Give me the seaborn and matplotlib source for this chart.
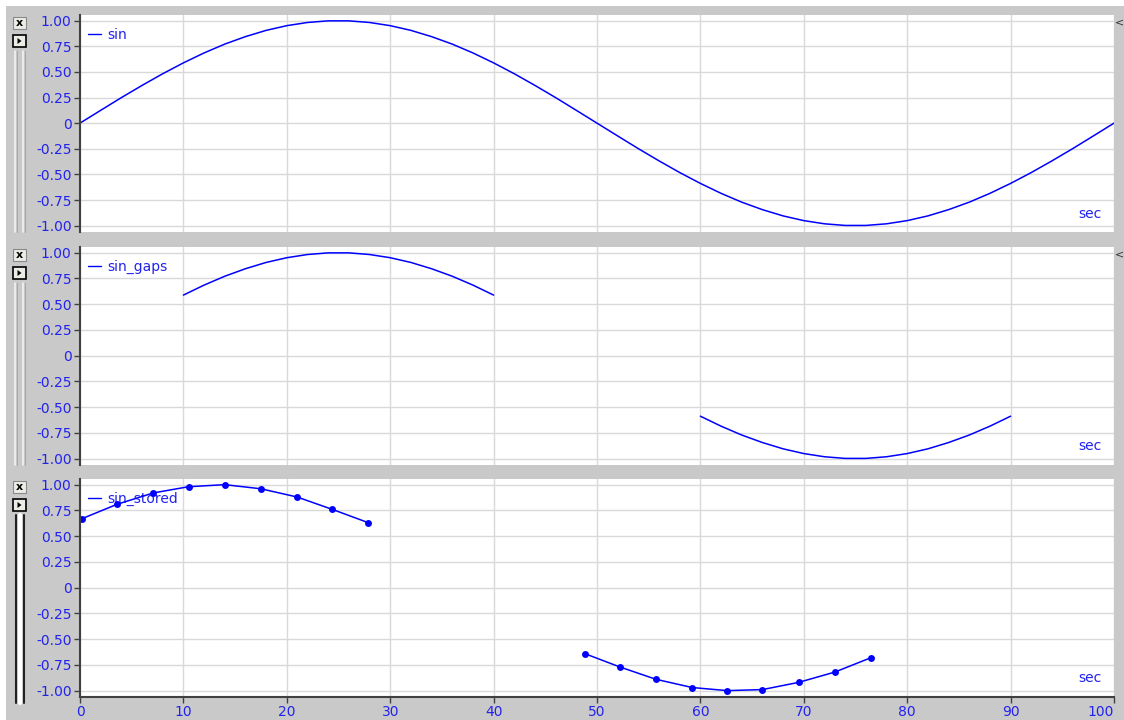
import matplotlib
matplotlib.use("Agg")
import matplotlib.pyplot as plt
import pandas as pd
import seaborn as sns
from matplotlib.lines import Line2D
from matplotlib.patches import Rectangle, Polygon
from matplotlib.ticker import FuncFormatter

# ---- data ----
sin_t = [0, 2, 4, 6, 8, 10, 12, 14, 16, 18, 20, 22, 24, 26, 28, 30, 32, 34,
         36, 38, 40, 42, 44, 46, 48, 50, 52, 54, 56, 58, 60, 62, 64, 66, 68,
         70, 72, 74, 76, 78, 80, 82, 84, 86, 88, 90, 92, 94, 96, 98, 100]
sin_v = [0.000, 0.125, 0.249, 0.368, 0.482, 0.588, 0.685, 0.771, 0.844, 0.905,
         0.951, 0.982, 0.998, 0.998, 0.982, 0.951, 0.905, 0.844, 0.771, 0.685,
         0.588, 0.482, 0.368, 0.249, 0.125, 0.000, -0.125, -0.249, -0.368,
         -0.482, -0.588, -0.685, -0.771, -0.844, -0.905, -0.951, -0.982,
         -0.998, -0.998, -0.982, -0.951, -0.905, -0.844, -0.771, -0.685,
         -0.588, -0.482, -0.368, -0.249, -0.125, 0.000]

gaps_t1 = [10, 12, 14, 16, 18, 20, 22, 24, 26, 28, 30, 32, 34, 36, 38, 40]
gaps_v1 = [0.588, 0.685, 0.771, 0.844, 0.905, 0.951, 0.982, 0.998, 0.998,
           0.982, 0.951, 0.905, 0.844, 0.771, 0.685, 0.588]
gaps_t2 = [60, 62, 64, 66, 68, 70, 72, 74, 76, 78, 80, 82, 84, 86, 88, 90]
gaps_v2 = [-0.588, -0.685, -0.771, -0.844, -0.905, -0.951, -0.982, -0.998,
           -0.998, -0.982, -0.951, -0.905, -0.844, -0.771, -0.685, -0.588]

stored_t1 = [0.2, 3.6, 7.1, 10.5, 14.0, 17.5, 21.0, 24.4, 27.9]
stored_v1 = [0.67, 0.81, 0.92, 0.98, 1.00, 0.96, 0.88, 0.76, 0.63]
stored_t2 = [48.8, 52.2, 55.7, 59.2, 62.6, 66.0, 69.5, 73.0, 76.5]
stored_v2 = [-0.64, -0.77, -0.89, -0.97, -1.00, -0.99, -0.92, -0.82, -0.68]

x_ticks = [0, 10, 20, 30, 40, 50, 60, 70, 80, 90, 100]
y_ticks = [-1.0, -0.75, -0.5, -0.25, 0.0, 0.25, 0.5, 0.75, 1.0]

# ---- style ----
W, H = 1124, 720
GREY = "#c9c9c9"
BLUE = "#0000ff"
TXT = "#2222ee"
SPINE = "#404040"

sns.set_style("whitegrid")
plt.rcParams["font.family"] = ["DejaVu Sans"]


def segs(parts):
    rows = []
    for i, (t, v) in enumerate(parts):
        rows += [{"t": a, "v": b, "seg": i} for a, b in zip(t, v)]
    return pd.DataFrame(rows)


panels = [
    ("sin", segs([(sin_t, sin_v)]), False),
    ("sin_gaps", segs([(gaps_t1, gaps_v1), (gaps_t2, gaps_v2)]), False),
    ("sin_stored", segs([(stored_t1, stored_v1), (stored_t2, stored_v2)]), True),
]
# panel top / bottom in pixels
boxes = [(15, 232), (247, 465), (479, 697)]
left_px, right_px = 80, 1114


def frac(x, y, w, h):
    return [x / W, 1 - (y + h) / H, w / W, h / H]


fig = plt.figure(figsize=(W / 100, H / 100), dpi=100, facecolor=GREY)
fig.add_artist(Rectangle((0, 1 - 6 / H), 1, 6 / H, transform=fig.transFigure,
                         color="white", lw=0))
fig.add_artist(Rectangle((0, 0), 6 / W, 1, transform=fig.transFigure,
                         color="white", lw=0))

fmt = FuncFormatter(lambda v, _: "0" if abs(v) < 1e-9 else f"{v:.2f}")

for idx, ((name, df, markers), (top, bot)) in enumerate(zip(panels, boxes)):
    ax = fig.add_axes(frac(left_px, top, right_px - left_px, bot - top))
    last = idx == len(panels) - 1
    kw = dict(marker="o", markersize=5, markeredgewidth=0, clip_on=False) if markers else {}
    sns.lineplot(data=df, x="t", y="v", units="seg", estimator=None, sort=False,
                 color=BLUE, lw=1.1, ax=ax, legend=False, **kw)
    ax.set(xlabel="", ylabel="")
    ax.set_facecolor("white")
    ax.set_xlim(0, 100)
    ax.set_ylim(-1.062, 1.055)
    ax.set_yticks(y_ticks)
    ax.yaxis.set_major_formatter(fmt)
    ax.set_xticks(x_ticks)
    ax.grid(True, color="#d9d9d9", lw=1)
    for s in ("top", "right"):
        ax.spines[s].set_visible(False)
    ax.spines["left"].set_color(SPINE)
    ax.spines["left"].set_linewidth(1.5)
    ax.spines["bottom"].set_visible(last)
    ax.spines["bottom"].set_color(SPINE)
    ax.spines["bottom"].set_linewidth(1.5)
    ax.tick_params(axis="y", left=True, direction="out", length=4, width=1,
                   color=SPINE, labelcolor=TXT, labelsize=10, pad=2)
    ax.tick_params(axis="x", bottom=last, labelbottom=last, direction="out",
                   length=4, width=1, color=SPINE, labelcolor=TXT,
                   labelsize=10, pad=2)
    if last:
        ax.get_xticklabels()[-1].set_horizontalalignment("right")

    leg = ax.legend([Line2D([], [], color=BLUE, lw=1)], [name],
                    loc="upper left", bbox_to_anchor=(0.008, 0.94),
                    frameon=False, fontsize=10, handlelength=0.9,
                    handletextpad=0.5, borderpad=0, borderaxespad=0,
                    labelcolor=TXT)
    leg.set_zorder(1.5)
    ax.text(0.988, 0.085, "sec", transform=ax.transAxes, ha="right",
            va="center", color=TXT, fontsize=10)

    # little window controls on the left
    fig.add_artist(Rectangle(frac(13, top + 2, 13, 12)[:2], 13 / W, 12 / H,
                             transform=fig.transFigure, facecolor="#ecebe4",
                             edgecolor="#8a8a8a", lw=0.8))
    fig.text(19.5 / W, 1 - (top + 8) / H, "x", ha="center", va="center",
             fontsize=8, fontweight="bold", color="black")
    fig.add_artist(Rectangle(frac(13, top + 20, 13, 12)[:2], 13 / W, 12 / H,
                             transform=fig.transFigure, facecolor="#ecebe4",
                             edgecolor="black", lw=1.2))
    ty = top + 26
    fig.add_artist(Polygon([(17.5 / W, 1 - (ty - 3) / H), (17.5 / W, 1 - (ty + 3) / H),
                            (21.5 / W, 1 - ty / H)], closed=True,
                           transform=fig.transFigure, color="black", lw=0))
    y0, y1 = 1 - (top + 36) / H, 1 - (bot + (6 if last else 0)) / H
    if last:
        for x in (16, 23.5):
            fig.add_artist(Line2D([x / W, x / W], [y0, y1], transform=fig.transFigure,
                                  color="#222222", lw=1.5))
        fig.add_artist(Line2D([19.8 / W, 19.8 / W], [y0, y1], transform=fig.transFigure,
                              color="white", lw=3))
    else:
        for x in (15, 23):
            fig.add_artist(Line2D([x / W, x / W], [y0, y1], transform=fig.transFigure,
                                  color="#f2f2f2", lw=1.2))
            fig.add_artist(Line2D([(x + 2) / W, (x + 2) / W], [y0, y1],
                                  transform=fig.transFigure, color="#a9a9a9", lw=0.8))
    if idx < 2:
        fig.text(1119 / W, 1 - (top + 7) / H, "<", ha="center", va="center",
                 fontsize=8, color="#333333")

fig.savefig("out.png", dpi=100, facecolor=GREY)
